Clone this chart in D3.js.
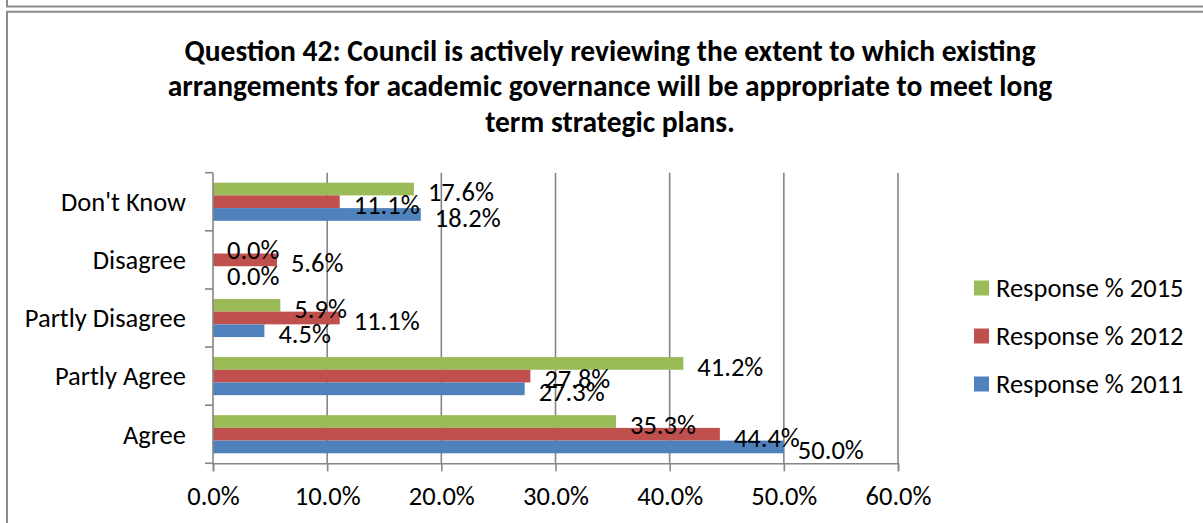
<!DOCTYPE html>
<html>
<head>
<meta charset="utf-8">
<script src="https://cdn.jsdelivr.net/npm/d3@7"></script>
<style>
  html, body { margin: 0; padding: 0; background: #fff; overflow: hidden; }
  svg { display: block; }
  text { font-family: Carlito, Calibri, Lato, "Open Sans", sans-serif; fill: #000; }
</style>
</head>
<body>
<svg id="chart" width="1203" height="523"></svg>
<script>
// Survey categories, top to bottom
const categories = ["Don't Know", "Disagree", "Partly Disagree", "Partly Agree", "Agree"];

// Series, drawn top to bottom inside each category group
const seriesNames = ["Response % 2015", "Response % 2012", "Response % 2011"];
const values2015 = [17.6, 0.0, 5.9, 41.2, 35.3];
const values2012 = [11.1, 5.6, 11.1, 27.8, 44.4];
const values2011 = [18.2, 0.0, 4.5, 27.3, 50.0];
const seriesColors = ["#9BBB59", "#C0504D", "#4F81BD"];

// Percentage axis ticks
const xTicks = [0, 10, 20, 30, 40, 50, 60];

const titleLines = [
  "Question 42: Council is actively reviewing the extent to which existing",
  "arrangements for academic governance will be appropriate to meet long",
  "term strategic plans."
];

const seriesValues = [values2015, values2012, values2011];
const series = seriesNames.map((name, i) => ({ name, values: seriesValues[i], color: seriesColors[i] }));
const points = series.flatMap(s => s.values.map((v, i) => ({ v, cat: categories[i], name: s.name, color: s.color })));

const svg = d3.select("#chart");
const axisColor = "#868686";
const frameColor = "#8c8c8c";
const fontSize = "26.5px";

// Surrounding frames
svg.append("line").attr("x1", 7).attr("x2", 7).attr("y1", 0).attr("y2", 7)
  .attr("stroke", frameColor).attr("stroke-width", 2);
svg.append("line").attr("x1", 6).attr("x2", 1203).attr("y1", 6.5).attr("y2", 6.5)
  .attr("stroke", frameColor).attr("stroke-width", 2);
svg.append("line").attr("x1", 6).attr("x2", 1203).attr("y1", 11.8).attr("y2", 11.8)
  .attr("stroke", frameColor).attr("stroke-width", 2);
svg.append("line").attr("x1", 7).attr("x2", 7).attr("y1", 11).attr("y2", 523)
  .attr("stroke", frameColor).attr("stroke-width", 2);

// Title
svg.append("g").selectAll("text").data(titleLines).join("text")
  .attr("x", 610)
  .attr("y", (d, i) => 61 + i * 35.3)
  .attr("text-anchor", "middle")
  .style("font-weight", "bold")
  .style("font-size", "29.5px")
  .text(d => d);

// Scales
const plotTop = 172.7, plotBottom = 463.3;
const x = d3.scaleLinear().domain([0, 60]).range([213, 898]);
const y = d3.scaleBand().domain(categories).range([plotTop, plotBottom]).padding(0);
const groupPad = (y.bandwidth() - 38.1) / 2;
const ySeries = d3.scaleBand().domain(seriesNames)
  .range([groupPad, groupPad + 38.1]).padding(0);

// Vertical gridlines
svg.append("g").selectAll("line").data(xTicks.filter(t => t > 0)).join("line")
  .attr("x1", d => x(d)).attr("x2", d => x(d))
  .attr("y1", plotTop).attr("y2", plotBottom)
  .attr("stroke", axisColor).attr("stroke-width", 1.6);

// Bars
svg.append("g").selectAll("rect").data(points).join("rect")
  .attr("x", x(0))
  .attr("y", d => y(d.cat) + ySeries(d.name))
  .attr("width", d => x(d.v) - x(0))
  .attr("height", ySeries.bandwidth())
  .attr("fill", d => d.color);

// Bottom axis
const xAxis = d3.axisBottom(x).tickValues(xTicks).tickSize(8).tickPadding(15)
  .tickFormat(d => d.toFixed(1) + "%");
const gx = svg.append("g").attr("transform", `translate(0,${plotBottom})`).call(xAxis);
gx.select(".domain").attr("stroke", axisColor).attr("stroke-width", 1.6);
gx.selectAll(".tick line").attr("stroke", axisColor).attr("stroke-width", 1.6);
gx.selectAll(".tick text").style("font-size", fontSize).attr("fill", "#000")
  .style("font-family", "Carlito, Calibri, Lato, sans-serif");

// Left axis: line with ticks at category boundaries
const boundaries = categories.map(c => y(c)).concat([plotBottom]);
const gy = svg.append("g");
gy.append("line").attr("x1", x(0)).attr("x2", x(0)).attr("y1", plotTop).attr("y2", plotBottom)
  .attr("stroke", axisColor).attr("stroke-width", 1.6);
gy.selectAll("line.tick").data(boundaries).join("line").attr("class", "tick")
  .attr("x1", x(0) - 8).attr("x2", x(0)).attr("y1", d => d).attr("y2", d => d)
  .attr("stroke", axisColor).attr("stroke-width", 1.6);
gy.selectAll("text").data(categories).join("text")
  .attr("x", 186)
  .attr("y", d => y(d) + y.bandwidth() / 2)
  .attr("dy", "0.35em")
  .attr("text-anchor", "end")
  .style("font-size", fontSize)
  .text(d => d);

// Data labels at the outer end of each bar, above all bars
svg.append("g").selectAll("text").data(points).join("text")
  .attr("x", d => x(d.v) + 14)
  .attr("y", d => y(d.cat) + ySeries(d.name) + ySeries.bandwidth() / 2 + 3)
  .attr("dy", "0.35em")
  .style("font-size", fontSize)
  .text(d => d.v.toFixed(1) + "%");

// Legend
const legend = svg.append("g").selectAll("g").data(series).join("g")
  .attr("transform", (d, i) => `translate(974,${288 + i * 48})`);
legend.append("rect").attr("x", 0).attr("y", -7.5).attr("width", 15).attr("height", 15)
  .attr("fill", d => d.color);
legend.append("text").attr("x", 22).attr("dy", "0.35em")
  .style("font-size", fontSize)
  .text(d => d.name);
</script>
</body>
</html>
